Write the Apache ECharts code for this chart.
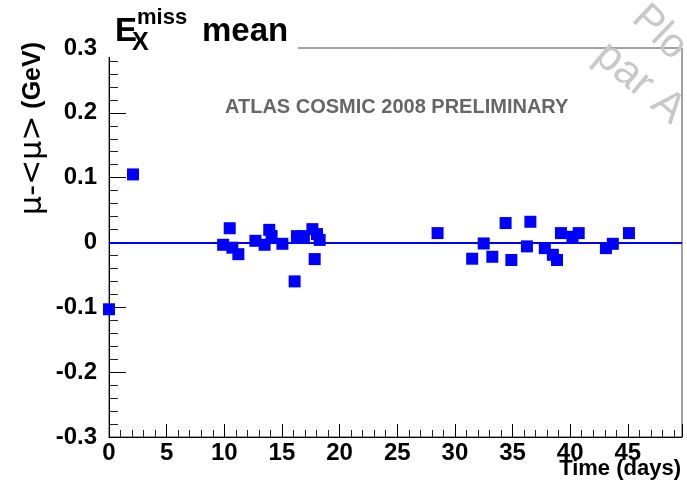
<!DOCTYPE html>
<html><head><meta charset="utf-8">
<script src="https://cdn.jsdelivr.net/npm/echarts@6/dist/echarts.min.js"></script>
<style>html,body{margin:0;padding:0;background:#fff}#c{width:687px;height:482px}</style>
</head><body><div id="c"></div>
<script>
// ---- data ----
const days = [0, 2.08, 9.9, 10.47, 10.7, 11.22, 12.7, 13.5, 13.9, 14.1, 15.04, 16.1, 16.3, 16.9, 17.64, 17.84, 18.04, 18.27,
              28.5, 31.5, 32.5, 33.25, 34.4, 34.9, 36.25, 36.55, 37.8, 38.5, 38.86, 39.2, 40.2, 40.74, 43.1, 43.7, 45.1];
const meanDev = [-0.103, 0.105, -0.0035, 0.022, -0.008, -0.018, 0.0026, -0.0035, 0.0195, 0.010, -0.002, -0.060, 0.0098, 0.0098, 0.0206, -0.0256, 0.013, 0.004,
                 0.0145, -0.025, -0.0015, -0.022, 0.030, -0.027, -0.006, 0.032, -0.0087, -0.019, -0.027, 0.0145, 0.0088, 0.0145, -0.0087, -0.002, 0.0145];
const referenceLevel = [0];
const xRange = [0, 49.7];
const yRange = [-0.3, 0.3];
const titleParts = ['E', 'miss', 'X', 'mean'];
const xTitle = 'Time (days)';
const yTitleParts = ['μ-<μ>', ' (GeV)'];
const stamp = 'ATLAS COSMIC 2008 PRELIMINARY';
const watermarkLines = ['Plo', 'par A'];

const F = '"Liberation Sans", Arial, Helvetica, sans-serif';
const points = days.map((d, i) => [d, meanDev[i]]);

const chart = echarts.init(document.getElementById('c'), null, {renderer: 'canvas'});
chart.setOption({
  animation: false,
  backgroundColor: '#fff',
  grid: {left: 109, right: 5, top: 48, bottom: 45, show: true, borderColor: '#444', borderWidth: 1, backgroundColor: 'transparent'},
  xAxis: {
    type: 'value', min: xRange[0], max: xRange[1], interval: 5,
    axisLine: {show: true, onZero: false, lineStyle: {color: '#000', width: 1}},
    axisTick: {show: true, inside: true, length: 13, lineStyle: {color: '#000'}},
    minorTick: {show: true, splitNumber: 5, length: 7, lineStyle: {color: '#222'}},
    splitLine: {show: false},
    axisLabel: {fontFamily: F, fontWeight: 'bold', fontSize: 24, color: '#000', margin: 4,
      formatter: v => (Math.abs(v / 5 - Math.round(v / 5)) < 1e-6 ? String(Math.round(v)) : '')}
  },
  yAxis: {
    type: 'value', min: yRange[0], max: yRange[1], interval: 0.1,
    axisLine: {show: true, onZero: false, lineStyle: {color: '#000', width: 1}},
    axisTick: {show: true, inside: true, length: 17, lineStyle: {color: '#000'}},
    minorTick: {show: true, splitNumber: 5, length: 9, lineStyle: {color: '#222'}},
    splitLine: {show: false},
    axisLabel: {fontFamily: F, fontWeight: 'bold', fontSize: 24, color: '#000', margin: 12}
  },
  series: [{
    type: 'scatter', data: points, symbol: 'rect', symbolSize: 12, z: 3,
    itemStyle: {color: '#0000ff', opacity: 1},
    markLine: {silent: true, symbol: 'none', label: {show: false},
      lineStyle: {color: '#0000ff', width: 2, type: 'solid', opacity: 1},
      data: referenceLevel.map(v => ({yAxis: v}))}
  }],
  graphic: [
    {type: 'rect', shape: {x: 104, y: 0, width: 194, height: 57}, style: {fill: '#fff'}, z: 100},
    {type: 'text', x: 115, y: 31.5, z: 101, style: {text: titleParts[0], font: 'bold 33px ' + F, fill: '#000', verticalAlign: 'middle'}},
    {type: 'text', x: 137, y: 18, z: 101, style: {text: titleParts[1], font: 'bold 22px ' + F, fill: '#000', verticalAlign: 'middle'}},
    {type: 'text', x: 132, y: 43, z: 101, style: {text: titleParts[2], font: 'bold 25px ' + F, fill: '#000', verticalAlign: 'middle'}},
    {type: 'text', x: 202, y: 31.5, z: 101, style: {text: titleParts[3], font: 'bold 33px ' + F, fill: '#000', verticalAlign: 'middle'}},
    {type: 'text', x: 225, y: 107.3, z: 101, style: {text: stamp, font: 'bold 20px ' + F, fill: '#666', verticalAlign: 'middle'}},
    {type: 'text', x: 681, y: 469, z: 101, style: {text: xTitle, font: 'bold 22px ' + F, fill: '#000', align: 'right', verticalAlign: 'middle'}},
    {type: 'text', x: 33, y: 42, rotation: Math.PI / 2, z: 101, style: {
      text: '{a|' + yTitleParts[0] + '}{b|' + yTitleParts[1] + '}', align: 'right', verticalAlign: 'middle',
      rich: {a: {fontFamily: '"DejaVu Sans", sans-serif', fontWeight: 'normal', fontSize: 30, fill: '#000', color: '#000'},
             b: {fontFamily: F, fontWeight: 'bold', fontSize: 25, fill: '#000', color: '#000'}}}},
    {type: 'text', x: 638, y: 12, rotation: -44 * Math.PI / 180, z: 99, style: {text: watermarkLines[0], font: '41px ' + F, fill: '#c8c8c8', verticalAlign: 'middle'}},
    {type: 'text', x: 600, y: 50, rotation: -40 * Math.PI / 180, z: 99, style: {text: watermarkLines[1], font: '43px ' + F, fill: '#c8c8c8', verticalAlign: 'middle'}}
  ]
});
</script></body></html>
